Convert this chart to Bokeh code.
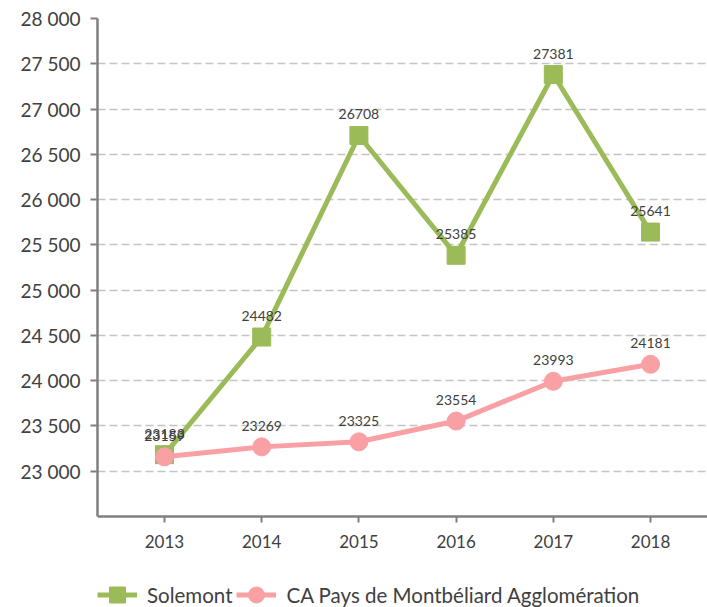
from bokeh.plotting import figure
from bokeh.models import FixedTicker, Range1d, Legend, LegendItem
from bokeh.core.properties import value
from bokeh.embed import file_html
from bokeh.resources import INLINE

years = [2013, 2014, 2015, 2016, 2017, 2018]
year_labels = ["2013", "2014", "2015", "2016", "2017", "2018"]
solemont = [23183, 24482, 26708, 25385, 27381, 25641]
ca_pma = [23159, 23269, 23325, 23554, 23993, 24181]
y_ticks = [23000, 23500, 24000, 24500, 25000, 25500, 26000, 26500, 27000, 27500, 28000]
y_tick_labels = ["23 000", "23 500", "24 000", "24 500", "25 000", "25 500",
                 "26 000", "26 500", "27 000", "27 500", "28 000"]
series_names = ["Solemont", "CA Pays de Montbéliard Agglomération"]
Y_BOTTOM = 22500
Y_TOP = 28000

GREEN = "#9BBB59"
PINK = "#F9A0A5"
FONT = "Lato"
AXIS = "#7f7f7f"

# frame covers the canvas down to the bottom so the legend can sit inside it;
# the x axis is pinned at the bottom of the value range.
p = figure(frame_width=610, frame_height=589, output_backend="svg", toolbar_location=None,
           x_range=Range1d(2012.311, 2018.586), y_range=Range1d(21495, Y_TOP),
           min_border_left=97, min_border_top=18, min_border_right=0,
           min_border_bottom=0)
p.outline_line_color = None

# axes
p.xaxis.ticker = FixedTicker(ticks=years)
p.xaxis.major_label_overrides = {y: l for y, l in zip(years, year_labels)}
p.xaxis.fixed_location = Y_BOTTOM
p.yaxis.ticker = FixedTicker(ticks=y_ticks)
p.yaxis.major_label_overrides = {t: l for t, l in zip(y_ticks, y_tick_labels)}
p.yaxis.bounds = (Y_BOTTOM, Y_TOP)
for ax in (p.xaxis[0], p.yaxis[0]):
    ax.axis_line_color = AXIS
    ax.axis_line_width = 2.5
    ax.major_tick_line_color = AXIS
    ax.major_tick_line_width = 2
    ax.major_tick_in = 0
    ax.minor_tick_line_color = None
    ax.major_label_text_font = FONT
    ax.major_label_text_color = "#404040"
p.yaxis.major_label_text_font_size = "19px"
p.xaxis.major_label_text_font_size = "17px"
p.yaxis.major_tick_out = 7
p.yaxis.major_label_standoff = 10
p.xaxis.major_tick_out = 6
p.xaxis.major_label_standoff = 12

p.xgrid.grid_line_color = None
p.ygrid.grid_line_color = "#c4c4c4"
p.ygrid.grid_line_dash = "8 4"
p.ygrid.grid_line_width = 1.5

# series
g_line = p.line(years, solemont, line_color=GREEN, line_width=5)
g_mark = p.scatter(years, solemont, marker="square", size=18, fill_color=GREEN, line_color=GREEN)
r_line = p.line(years, ca_pma, line_color=PINK, line_width=5)
r_mark = p.scatter(years, ca_pma, marker="circle", size=18, fill_color=PINK, line_color=PINK)

for data in (solemont, ca_pma):
    p.text(years, data, text=[str(v) for v in data], y_offset=-21,
           text_align="center", text_baseline="middle",
           text_font=value(FONT), text_font_size="14px", text_color="#404040")

legend = Legend(items=[LegendItem(label=series_names[0], renderers=[g_line, g_mark]),
                       LegendItem(label=series_names[1], renderers=[r_line, r_mark])],
                orientation="horizontal", location=(0, -10),
                margin=0, padding=0, spacing=4, label_standoff=10,
                glyph_width=40, glyph_height=45, label_height=20,
                border_line_alpha=0, background_fill_alpha=0,
                label_text_font=FONT, label_text_font_size="20.5px",
                label_text_color="#404040")
p.add_layout(legend, "center")

open("out.html", "w").write(file_html(p, INLINE))
